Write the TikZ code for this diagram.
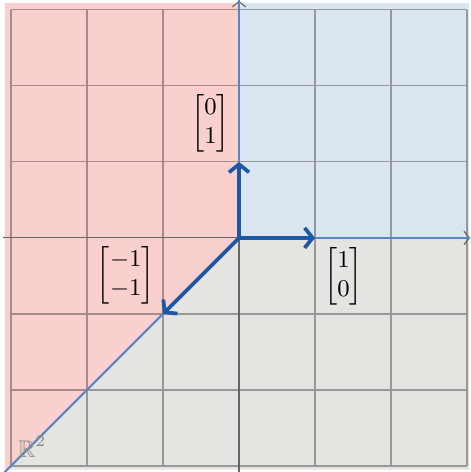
\documentclass[tikz,border=0pt]{standalone}
\usepackage{amsmath,amssymb}
\usetikzlibrary{arrows.meta}
\definecolor{bluefill}{HTML}{DBE5F0}
\definecolor{redfill}{HTML}{F9D0CD}
\definecolor{grayfill}{HTML}{E5E4E1}
\definecolor{rayblue}{HTML}{5A86C4}
\definecolor{vecblue}{HTML}{1C58A4}
\tikzset{
  gridline/.style={black!100,opacity=0.33,line width=0.45pt},
  axisline/.style={black!60,line width=0.45pt,-{Straight Barb[length=2pt,width=5pt]}},
  rayline/.style={rayblue,line width=0.8pt},
  vecarrow/.style={vecblue,line width=1.4pt,-{Straight Barb[length=3pt,width=7.5pt]}},
  veclabel/.style={font=\fontsize{9}{10.8}\selectfont,inner sep=0pt},
}
\begin{document}
\begin{tikzpicture}[x=1cm,y=1cm]
\useasboundingbox (-3.145,-3.08) rectangle (3.04,3.13);
\clip (-3.145,-3.08) rectangle (3.04,3.13);
\coordinate (O) at (0,0);
\coordinate (E1) at (1,0);
\coordinate (E2) at (0,1);
\coordinate (E3) at (-1,-1);
\coordinate (Top) at (0,3.3);
\coordinate (Right) at (3.3,0);
\coordinate (DL) at (-3.3,-3.3);
% cones
\fill[bluefill] (O) rectangle (3.03,3.09);
\fill[redfill] (O) -- (0,3.09) -- (-3.08,3.09) -- (-3.08,-3.08) -- cycle;
\fill[grayfill] (O) -- (-3.08,-3.08) -- (-3.08,-3.05) -- (3.03,-3.05) -- (3.03,0) -- cycle;
% grid
\draw[gridline] (-3,-3) grid (3,3);
% axes
\coordinate (AxL) at (-3.1,0);
\coordinate (AxR) at (3.04,0);
\coordinate (AxB) at (0,-3.1);
\coordinate (AxT) at (0,3.12);
\draw[axisline] (AxL) -- (AxR);
\draw[axisline] (AxB) -- (AxT);
% cone boundaries
\draw[rayline] (O) -- (Top);
\draw[rayline] (O) -- (Right);
\draw[rayline] (O) -- (DL);
% vectors
\draw[vecarrow] (O) -- (E1);
\draw[vecarrow] (O) -- (E2);
\draw[vecarrow] (O) -- (E3);
% labels
\node[veclabel] (L1) at (1.375,-0.5) {$\begin{bmatrix}1\\0\end{bmatrix}$};
\node[veclabel] (L2) at (-0.375,1.51) {$\begin{bmatrix}0\\1\end{bmatrix}$};
\node[veclabel] (L3) at (-1.49,-0.49) {$\begin{bmatrix}-1\\-1\end{bmatrix}$};
\node[veclabel,text=black!45] (R2) at (-2.72,-2.75) {$\mathbb{R}^2$};
\end{tikzpicture}
\end{document}
